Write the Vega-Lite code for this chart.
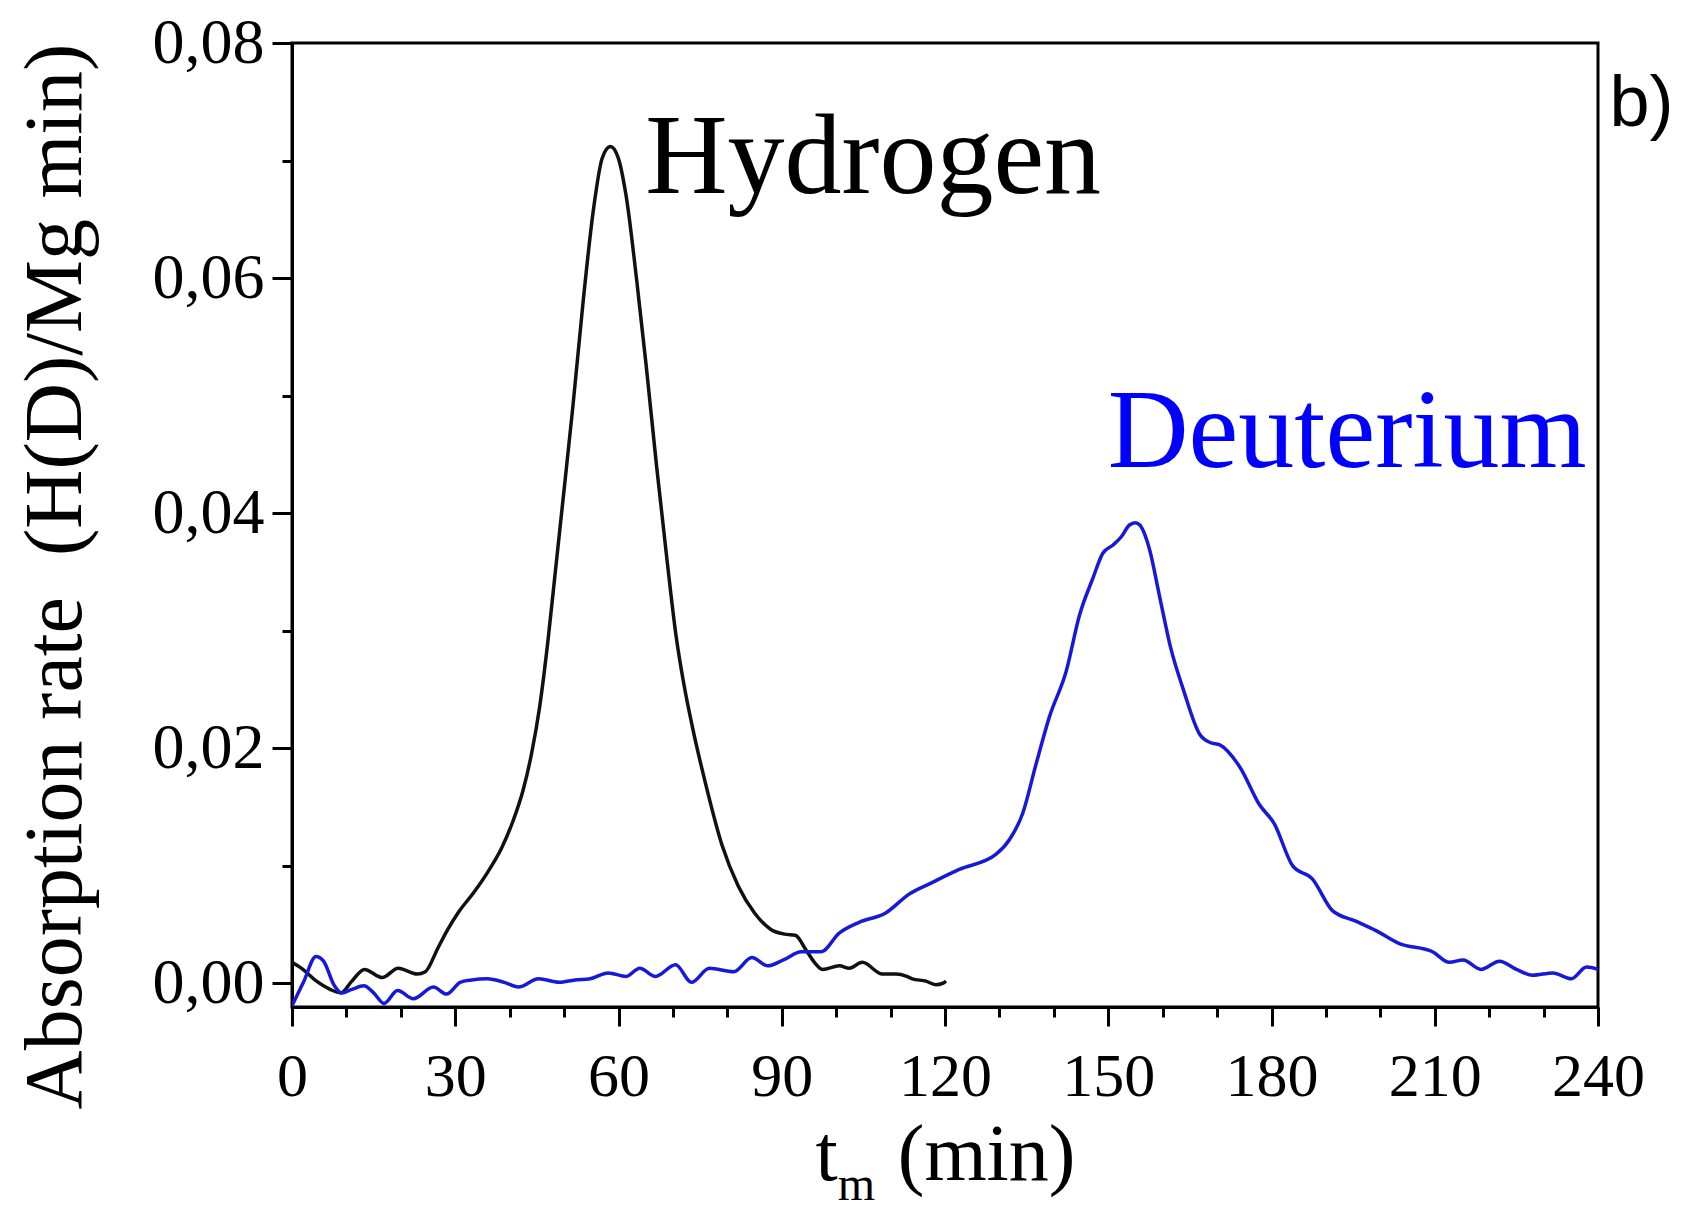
{
  "$schema": "https://vega.github.io/schema/vega-lite/v6.json",
  "autosize": {"type": "none"},
  "padding": {"left": 292, "top": 43, "right": 88, "bottom": 207},
  "width": 1306,
  "height": 964,
  "background": "white",
  "config": {
    "view": {"stroke": "black", "strokeWidth": 3},
    "axis": {"grid": false, "labelFlush": false, "labelOverlap": false, "labelBound": false}
  },
  "datasets": {
    "curves": [
      {"series": "Hydrogen", "t": 0, "v": 0.0018},
      {"series": "Hydrogen", "t": 2, "v": 0.0012},
      {"series": "Hydrogen", "t": 4.5, "v": 0.0002},
      {"series": "Hydrogen", "t": 7, "v": -0.0005},
      {"series": "Hydrogen", "t": 9, "v": -0.0008},
      {"series": "Hydrogen", "t": 11, "v": 0.0002},
      {"series": "Hydrogen", "t": 13.3, "v": 0.0012},
      {"series": "Hydrogen", "t": 16.6, "v": 0.0005},
      {"series": "Hydrogen", "t": 19.5, "v": 0.0013},
      {"series": "Hydrogen", "t": 23, "v": 0.0008},
      {"series": "Hydrogen", "t": 24.5, "v": 0.001},
      {"series": "Hydrogen", "t": 26.8, "v": 0.003},
      {"series": "Hydrogen", "t": 28.5, "v": 0.0045},
      {"series": "Hydrogen", "t": 30.5, "v": 0.006},
      {"series": "Hydrogen", "t": 33.5, "v": 0.0078},
      {"series": "Hydrogen", "t": 36, "v": 0.0095},
      {"series": "Hydrogen", "t": 38.5, "v": 0.0115},
      {"series": "Hydrogen", "t": 40.6, "v": 0.0138},
      {"series": "Hydrogen", "t": 42.5, "v": 0.0165},
      {"series": "Hydrogen", "t": 44, "v": 0.0195},
      {"series": "Hydrogen", "t": 45.5, "v": 0.0235},
      {"series": "Hydrogen", "t": 47, "v": 0.029},
      {"series": "Hydrogen", "t": 48.5, "v": 0.0355},
      {"series": "Hydrogen", "t": 50, "v": 0.042},
      {"series": "Hydrogen", "t": 51.6, "v": 0.049},
      {"series": "Hydrogen", "t": 53.5, "v": 0.058},
      {"series": "Hydrogen", "t": 55.3, "v": 0.0655},
      {"series": "Hydrogen", "t": 57, "v": 0.0702},
      {"series": "Hydrogen", "t": 58.5, "v": 0.0712},
      {"series": "Hydrogen", "t": 59.9, "v": 0.0703},
      {"series": "Hydrogen", "t": 61.4, "v": 0.067},
      {"series": "Hydrogen", "t": 63.3, "v": 0.06},
      {"series": "Hydrogen", "t": 65.1, "v": 0.0525},
      {"series": "Hydrogen", "t": 67, "v": 0.044},
      {"series": "Hydrogen", "t": 68.8, "v": 0.0365},
      {"series": "Hydrogen", "t": 70.6, "v": 0.0295},
      {"series": "Hydrogen", "t": 72, "v": 0.0255},
      {"series": "Hydrogen", "t": 73.5, "v": 0.022},
      {"series": "Hydrogen", "t": 76, "v": 0.017},
      {"series": "Hydrogen", "t": 79, "v": 0.0118},
      {"series": "Hydrogen", "t": 82, "v": 0.0083},
      {"series": "Hydrogen", "t": 85, "v": 0.006},
      {"series": "Hydrogen", "t": 88, "v": 0.0046},
      {"series": "Hydrogen", "t": 90.5, "v": 0.0042},
      {"series": "Hydrogen", "t": 92.5, "v": 0.0041},
      {"series": "Hydrogen", "t": 94.4, "v": 0.0029},
      {"series": "Hydrogen", "t": 96, "v": 0.0018},
      {"series": "Hydrogen", "t": 97.5, "v": 0.0012},
      {"series": "Hydrogen", "t": 100.6, "v": 0.0015},
      {"series": "Hydrogen", "t": 102.4, "v": 0.0013},
      {"series": "Hydrogen", "t": 104.8, "v": 0.0018},
      {"series": "Hydrogen", "t": 108.5, "v": 0.0008},
      {"series": "Hydrogen", "t": 111, "v": 0.0008},
      {"series": "Hydrogen", "t": 113, "v": 0.0006},
      {"series": "Hydrogen", "t": 114, "v": 0.0004},
      {"series": "Hydrogen", "t": 116.5, "v": 0.0002},
      {"series": "Hydrogen", "t": 118.3, "v": -0.0001},
      {"series": "Hydrogen", "t": 119.5, "v": 0.0},
      {"series": "Hydrogen", "t": 120.2, "v": 0.0002},
      {"series": "Deuterium", "t": 0, "v": -0.0019},
      {"series": "Deuterium", "t": 2.1, "v": 0.0001},
      {"series": "Deuterium", "t": 4.4, "v": 0.0023},
      {"series": "Deuterium", "t": 5.8, "v": 0.0019},
      {"series": "Deuterium", "t": 7.8, "v": -0.0002},
      {"series": "Deuterium", "t": 9.1, "v": -0.0008},
      {"series": "Deuterium", "t": 11, "v": -0.0005},
      {"series": "Deuterium", "t": 13.2, "v": -0.0002},
      {"series": "Deuterium", "t": 15, "v": -0.0008},
      {"series": "Deuterium", "t": 16.9, "v": -0.0017},
      {"series": "Deuterium", "t": 19.4, "v": -0.0006},
      {"series": "Deuterium", "t": 22.3, "v": -0.0013},
      {"series": "Deuterium", "t": 26, "v": -0.0003},
      {"series": "Deuterium", "t": 28.4, "v": -0.0009},
      {"series": "Deuterium", "t": 30.9, "v": 0.0001},
      {"series": "Deuterium", "t": 33, "v": 0.0003},
      {"series": "Deuterium", "t": 35.9, "v": 0.0004},
      {"series": "Deuterium", "t": 39, "v": 0.0001},
      {"series": "Deuterium", "t": 41.6, "v": -0.0003},
      {"series": "Deuterium", "t": 45.3, "v": 0.0004},
      {"series": "Deuterium", "t": 49.1, "v": 0.0001},
      {"series": "Deuterium", "t": 52, "v": 0.0003},
      {"series": "Deuterium", "t": 54.8, "v": 0.0004},
      {"series": "Deuterium", "t": 58.1, "v": 0.0009},
      {"series": "Deuterium", "t": 61.4, "v": 0.0006},
      {"series": "Deuterium", "t": 63.9, "v": 0.0013},
      {"series": "Deuterium", "t": 66.8, "v": 0.0006},
      {"series": "Deuterium", "t": 70.5, "v": 0.0016},
      {"series": "Deuterium", "t": 73.4, "v": 0.0001},
      {"series": "Deuterium", "t": 76.7, "v": 0.0013},
      {"series": "Deuterium", "t": 81.2, "v": 0.001},
      {"series": "Deuterium", "t": 84.5, "v": 0.0022},
      {"series": "Deuterium", "t": 87.4, "v": 0.0015},
      {"series": "Deuterium", "t": 90.3, "v": 0.002},
      {"series": "Deuterium", "t": 93.6, "v": 0.0027},
      {"series": "Deuterium", "t": 97.2, "v": 0.0027},
      {"series": "Deuterium", "t": 100.6, "v": 0.0043},
      {"series": "Deuterium", "t": 104.2, "v": 0.0052},
      {"series": "Deuterium", "t": 109.1, "v": 0.006},
      {"series": "Deuterium", "t": 113.4, "v": 0.0076},
      {"series": "Deuterium", "t": 117.7, "v": 0.0086},
      {"series": "Deuterium", "t": 122.6, "v": 0.0097},
      {"series": "Deuterium", "t": 129.4, "v": 0.011},
      {"series": "Deuterium", "t": 131.8, "v": 0.0122},
      {"series": "Deuterium", "t": 134.3, "v": 0.0145},
      {"series": "Deuterium", "t": 136.7, "v": 0.0186},
      {"series": "Deuterium", "t": 139.2, "v": 0.0227},
      {"series": "Deuterium", "t": 142.3, "v": 0.0266},
      {"series": "Deuterium", "t": 144.7, "v": 0.0313},
      {"series": "Deuterium", "t": 147.2, "v": 0.0345},
      {"series": "Deuterium", "t": 149, "v": 0.0366},
      {"series": "Deuterium", "t": 150.9, "v": 0.0373},
      {"series": "Deuterium", "t": 152.4, "v": 0.038},
      {"series": "Deuterium", "t": 153.9, "v": 0.039},
      {"series": "Deuterium", "t": 155, "v": 0.0392},
      {"series": "Deuterium", "t": 155.8, "v": 0.039},
      {"series": "Deuterium", "t": 157.6, "v": 0.0369},
      {"series": "Deuterium", "t": 159.4, "v": 0.033},
      {"series": "Deuterium", "t": 161.5, "v": 0.0285},
      {"series": "Deuterium", "t": 163.8, "v": 0.025},
      {"series": "Deuterium", "t": 166.8, "v": 0.0212},
      {"series": "Deuterium", "t": 168.7, "v": 0.0205},
      {"series": "Deuterium", "t": 170.5, "v": 0.0203},
      {"series": "Deuterium", "t": 174.2, "v": 0.0184},
      {"series": "Deuterium", "t": 177.8, "v": 0.0152},
      {"series": "Deuterium", "t": 180.5, "v": 0.0136},
      {"series": "Deuterium", "t": 183.9, "v": 0.01},
      {"series": "Deuterium", "t": 187.5, "v": 0.0089},
      {"series": "Deuterium", "t": 191.2, "v": 0.0062},
      {"series": "Deuterium", "t": 195.5, "v": 0.0053},
      {"series": "Deuterium", "t": 199.2, "v": 0.0045},
      {"series": "Deuterium", "t": 203.5, "v": 0.0034},
      {"series": "Deuterium", "t": 209.6, "v": 0.0027},
      {"series": "Deuterium", "t": 212.7, "v": 0.0018},
      {"series": "Deuterium", "t": 215.2, "v": 0.002},
      {"series": "Deuterium", "t": 218.5, "v": 0.0012},
      {"series": "Deuterium", "t": 221.9, "v": 0.0019},
      {"series": "Deuterium", "t": 225, "v": 0.0012},
      {"series": "Deuterium", "t": 228, "v": 0.0007},
      {"series": "Deuterium", "t": 231.7, "v": 0.0009},
      {"series": "Deuterium", "t": 235.1, "v": 0.0004},
      {"series": "Deuterium", "t": 237.9, "v": 0.0014},
      {"series": "Deuterium", "t": 240, "v": 0.0012}
    ],
    "labels": [
      {"label": "Hydrogen", "t": 64.9, "v": 0.0672},
      {"label": "Deuterium", "t": 149.9, "v": 0.0439},
      {"label": "b)", "t": 242.1, "v": 0.0729},
      {"label": "m", "t": 100.3, "v": -0.0184}
    ]
  },
  "layer": [
    {
      "data": {"name": "curves"},
      "mark": {"type": "line", "strokeWidth": 3.5, "interpolate": "monotone", "clip": true},
      "encoding": {
        "x": {
          "field": "t", "type": "quantitative",
          "scale": {"domain": [0, 240], "nice": false, "zero": false},
          "axis": {
            "orient": "bottom",
            "values": [0, 30, 60, 90, 120, 150, 180, 210, 240],
            "domain": true, "domainColor": "black", "domainWidth": 3,
            "ticks": true, "tickSize": 19, "tickWidth": 3, "tickColor": "black",
            "labelFont": "Liberation Serif", "labelFontSize": 62, "labelColor": "black", "labelPadding": 20,
            "title": "t\u2002\u00a0(min)",
            "titleFont": "Liberation Serif", "titleFontSize": 80, "titleFontWeight": "normal", "titleColor": "black",
            "titleBaseline": "alphabetic", "titleY": 172
          }
        },
        "y": {
          "field": "v", "type": "quantitative",
          "scale": {"domain": [-0.002, 0.08], "nice": false, "zero": false},
          "axis": {
            "orient": "left",
            "values": [0, 0.02, 0.04, 0.06, 0.08],
            "labelExpr": "replace(format(datum.value, '.2f'), '.', ',')",
            "domain": true, "domainColor": "black", "domainWidth": 3,
            "ticks": true, "tickSize": 20, "tickWidth": 3, "tickColor": "black",
            "labelFont": "Liberation Serif", "labelFontSize": 64, "labelColor": "black", "labelPadding": 8,
            "title": "Absorption rate\u00a0 (H(D)/Mg min)",
            "titleFont": "Liberation Serif", "titleFontSize": 82, "titleFontWeight": "normal", "titleColor": "black",
            "titleAngle": 270, "titleBaseline": "alphabetic", "titleAlign": "center",
            "titleX": -212, "titleY": 533
          }
        },
        "color": {
          "field": "series", "type": "nominal",
          "scale": {"domain": ["Hydrogen", "Deuterium"], "range": ["#111111", "#1818d8"]},
          "legend": null
        }
      }
    },
    {
      "data": {"name": "labels"},
      "transform": [{"filter": "datum.label === 'Hydrogen'"}],
      "mark": {"type": "text", "font": "Liberation Serif", "fontSize": 114, "align": "left", "baseline": "alphabetic", "color": "black"},
      "encoding": {
        "x": {
          "field": "t", "type": "quantitative",
          "axis": {
            "orient": "bottom",
            "values": [10, 20, 40, 50, 70, 80, 100, 110, 130, 140, 160, 170, 190, 200, 220, 230],
            "domain": false, "labels": false, "title": null,
            "ticks": true, "tickSize": 10, "tickWidth": 3, "tickColor": "black"
          }
        },
        "y": {
          "field": "v", "type": "quantitative",
          "axis": {
            "orient": "left",
            "values": [0.01, 0.03, 0.05, 0.07],
            "domain": false, "labels": false, "title": null,
            "ticks": true, "tickSize": 10, "tickWidth": 3, "tickColor": "black"
          }
        },
        "text": {"field": "label", "type": "nominal"}
      }
    },
    {
      "data": {"name": "labels"},
      "transform": [{"filter": "datum.label === 'Deuterium'"}],
      "mark": {"type": "text", "font": "Liberation Serif", "fontSize": 112, "align": "left", "baseline": "alphabetic", "color": "#0000ff"},
      "encoding": {
        "x": {"field": "t", "type": "quantitative", "axis": null},
        "y": {"field": "v", "type": "quantitative", "axis": null},
        "text": {"field": "label", "type": "nominal"}
      }
    },
    {
      "data": {"name": "labels"},
      "transform": [{"filter": "datum.label === 'b)'"}],
      "mark": {"type": "text", "font": "Liberation Sans", "fontSize": 72, "align": "left", "baseline": "alphabetic", "color": "black"},
      "encoding": {
        "x": {"field": "t", "type": "quantitative", "axis": null},
        "y": {"field": "v", "type": "quantitative", "axis": null},
        "text": {"field": "label", "type": "nominal"}
      }
    },
    {
      "data": {"name": "labels"},
      "transform": [{"filter": "datum.label === 'm'"}],
      "mark": {"type": "text", "font": "Liberation Serif", "fontSize": 48, "align": "left", "baseline": "alphabetic", "color": "black"},
      "encoding": {
        "x": {"field": "t", "type": "quantitative", "axis": null},
        "y": {"field": "v", "type": "quantitative", "axis": null},
        "text": {"field": "label", "type": "nominal"}
      }
    }
  ],
  "resolve": {"axis": {"x": "independent", "y": "independent"}}
}
